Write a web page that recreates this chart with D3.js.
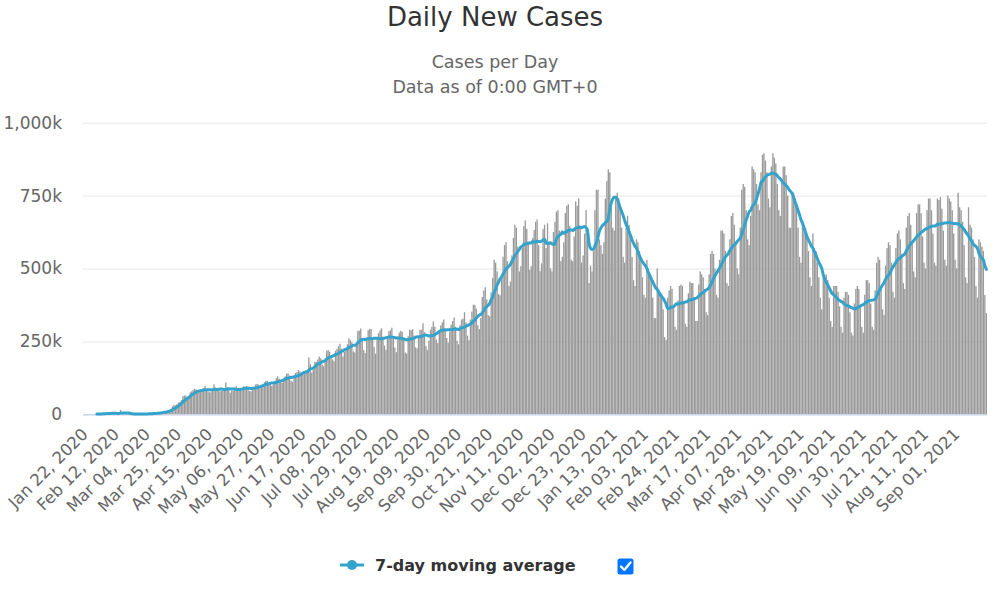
<!DOCTYPE html>
<html><head><meta charset="utf-8">
<script src="https://cdn.jsdelivr.net/npm/d3@7"></script>
<style>
html,body{margin:0;padding:0;background:#fff;}
svg{display:block;font-family:"DejaVu Sans",Verdana,sans-serif;}
</style>
</head><body>
<svg id="chart" width="1007" height="590"></svg>
<script>
// ---------------- DATA ----------------
const startDate = "2020-01-22";          // first category (a Wednesday)
// Daily new cases in thousands, one value per day (rows = weeks Wed..Tue)
const dailyNewCasesK = [
0.1,0.3,0.5,0.7,0.8,0.8,1.5,
1.2,2.0,2.1,2.6,2.8,3.2,3.9,
3.7,3.2,3.4,2.7,3.0,2.6,2.0,
2.0,15.1,6.5,2.1,2.1,2.0,1.9,
0.5,0.9,1.0,1.6,0.6,0.6,0.9,
1.0,1.3,1.4,1.9,1.7,1.9,2.5,
2.3,2.8,3.9,3.9,4.1,4.0,4.6,
7.1,8.0,10.8,10.9,11.4,14.5,15.0,
19,27,32,31,34,40,42,
49,62,64,64,60,62,75,
79,83,88,85,75,76,81,
86,90,97,83,78,75,76,
88,103,92,85,80,79,81,
82,89,109,90,83,74,81,
80,90,97,90,82,83,81,
96,94,97,92,80,79,88,
94,102,104,102,89,95,100,
110,115,115,108,104,97,102,
114,124,130,122,110,108,120,
130,140,140,133,115,112,130,
142,145,152,147,136,138,148,
150,150,195,172,143,152,180,
180,188,198,192,170,165,192,
218,220,215,198,188,182,218,
224,233,242,225,198,214,226,
240,260,254,247,216,212,243,
285,287,294,258,220,210,255,
288,293,292,258,231,208,256,
278,288,295,266,236,221,262,
285,288,297,258,229,213,265,
280,286,283,258,212,208,268,
290,288,292,270,230,226,268,
290,290,312,282,234,220,252,
290,300,318,300,256,244,282,
305,315,325,294,262,246,283,
308,320,332,300,252,240,305,
325,328,350,315,270,254,325,
352,376,375,362,305,292,330,
402,424,436,394,340,336,418,
468,530,520,490,412,408,470,
540,580,590,525,440,455,545,
605,650,640,575,490,508,570,
645,665,636,592,495,508,605,
632,660,668,580,492,518,635,
650,570,655,590,500,490,625,
660,695,700,630,525,540,590,
690,715,720,645,530,525,610,
730,715,740,640,520,545,620,
700,640,450,510,490,560,700,
770,770,600,580,550,590,740,
800,840,830,730,640,630,740,
760,740,720,640,540,520,640,
680,650,620,540,460,440,600,
590,560,540,470,410,400,530,
500,480,460,400,330,330,500,
430,420,415,360,265,255,400,
425,440,430,370,300,290,390,
440,445,440,380,310,300,415,
455,450,450,395,320,320,445,
490,480,470,430,350,340,480,
550,560,550,500,410,400,530,
630,630,620,560,450,440,600,
680,690,650,590,500,480,640,
770,790,780,700,600,580,680,
850,840,830,790,720,700,830,
890,895,870,830,740,710,850,
895,880,860,790,700,680,800,
850,850,820,750,640,640,750,
760,740,720,640,540,520,665,
650,640,610,560,470,440,620,
570,560,520,470,400,360,470,
470,480,460,400,320,300,440,
440,440,420,370,300,280,400,
420,420,410,350,280,270,380,
430,440,430,370,300,280,410,
460,460,450,380,300,290,425,
520,540,530,440,360,340,510,
570,590,580,520,420,400,570,
620,630,600,550,450,430,640,
680,690,650,590,490,470,690,
720,720,690,610,520,500,700,
740,740,700,620,520,510,740,
735,745,705,630,530,510,750,
740,730,700,620,530,500,760,
710,700,660,580,470,450,710,
650,640,600,540,440,400,600,
590,575,560,409,347
];
const yTickValues = [0, 250, 500, 750, 1000];
const xTickLabels = ["Jan 22, 2020","Feb 12, 2020","Mar 04, 2020","Mar 25, 2020","Apr 15, 2020",
  "May 06, 2020","May 27, 2020","Jun 17, 2020","Jul 08, 2020","Jul 29, 2020","Aug 19, 2020",
  "Sep 09, 2020","Sep 30, 2020","Oct 21, 2020","Nov 11, 2020","Dec 02, 2020","Dec 23, 2020",
  "Jan 13, 2021","Feb 03, 2021","Feb 24, 2021","Mar 17, 2021","Apr 07, 2021","Apr 28, 2021",
  "May 19, 2021","Jun 09, 2021","Jun 30, 2021","Jul 21, 2021","Aug 11, 2021","Sep 01, 2021"];
const xTickEveryDays = 21;
const movingAverageDays = 7;
const titleText = "Daily New Cases";
const subtitleLines = ["Cases per Day", "Data as of 0:00 GMT+0"];
const legendLabel = "7-day moving average";

// ---------------- CHART ----------------
const W = 1007, H = 590;
const plot = {left: 83, right: 987, top: 122.7, bottom: 414.3};
const svg = d3.select("#chart");
svg.append("rect").attr("width", W).attr("height", H).attr("fill", "#fff");

const n = dailyNewCasesK.length;
const day0 = d3.utcParse("%Y-%m-%d")(startDate);
const categories = d3.range(n).map(i => d3.utcDay.offset(day0, i));

const x = d3.scaleBand().domain(d3.range(n)).range([87.3, plot.right]).paddingInner(0.1);
const cx = i => x(i) + x.bandwidth() / 2;
const y = d3.scaleLinear().domain([0, 1000]).range([plot.bottom, plot.top]);

// title
svg.append("text").attr("x", 495).attr("y", 26).attr("text-anchor", "middle")
  .attr("font-size", 26).attr("fill", "#333").text(titleText);
svg.selectAll("text.sub").data(subtitleLines).join("text").attr("class", "sub")
  .attr("x", 495).attr("y", (d, i) => 68 + i * 25).attr("text-anchor", "middle")
  .attr("font-size", 17.5).attr("fill", "#666").text(d => d);

// y axis + grid
const yAxis = d3.axisLeft(y).tickValues(yTickValues)
  .tickFormat(d => d === 0 ? "0" : d3.format(",")(d) + "k")
  .tickSize(-(plot.right - plot.left)).tickPadding(21);
const gy = svg.append("g").attr("transform", `translate(${plot.left},0)`).call(yAxis);
gy.select(".domain").remove();
gy.selectAll("line").attr("stroke", "#e6e6e6");
gy.selectAll("text").attr("font-size", 17).attr("fill", "#666")
  .attr("font-family", '"DejaVu Sans",Verdana,sans-serif');

// bars
svg.append("g").selectAll("rect").data(dailyNewCasesK).join("rect")
  .attr("x", (d, i) => x(i)).attr("width", x.bandwidth())
  .attr("y", d => y(d)).attr("height", d => y(0) - y(d))
  .attr("fill", "#9a9a9a");

// x axis
svg.append("line").attr("x1", plot.left).attr("x2", plot.right)
  .attr("y1", plot.bottom + 0.5).attr("y2", plot.bottom + 0.5)
  .attr("stroke", "#ccd6eb").attr("stroke-width", 1.5);
const tickIdx = d3.range(0, n, xTickEveryDays).slice(0, xTickLabels.length);
const xAxis = d3.axisBottom(x).tickValues(tickIdx)
  .tickFormat(i => xTickLabels[i / xTickEveryDays]).tickSize(0);
const gx = svg.append("g").attr("transform", `translate(0,${plot.bottom})`).call(xAxis);
gx.select(".domain").remove();
gx.selectAll("text").attr("x", 0).attr("y", 0).attr("dy", null)
  .attr("text-anchor", "end").attr("transform", "translate(1,21) rotate(-45)")
  .attr("font-size", 16.5).attr("fill", "#666")
  .attr("font-family", '"DejaVu Sans",Verdana,sans-serif');

// 7-day moving average
const ma = dailyNewCasesK.map((v, i) => i < movingAverageDays - 1 ? null :
  d3.mean(dailyNewCasesK.slice(i - movingAverageDays + 1, i + 1)));
const lineGen = d3.line().defined(d => d != null)
  .x((d, i) => cx(i)).y(d => y(d)).curve(d3.curveMonotoneX);
svg.append("path").datum(ma).attr("d", lineGen)
  .attr("fill", "none").attr("stroke", "#33a3cc").attr("stroke-width", 3)
  .attr("stroke-linejoin", "round").attr("stroke-linecap", "round");

// legend
const lg = svg.append("g");
lg.append("line").attr("x1", 340).attr("x2", 364).attr("y1", 565).attr("y2", 565)
  .attr("stroke", "#33a3cc").attr("stroke-width", 3);
lg.append("circle").attr("cx", 352).attr("cy", 565).attr("r", 5).attr("fill", "#33a3cc");
lg.append("text").attr("x", 375).attr("y", 571).attr("font-size", 16)
  .attr("font-weight", "bold").attr("fill", "#333").text(legendLabel);
lg.append("rect").attr("x", 617.5).attr("y", 558.5).attr("width", 16).attr("height", 16)
  .attr("rx", 2.5).attr("fill", "#0075ff");
lg.append("path").attr("d", "M621,566.5 L624.3,570 L630.5,562.5")
  .attr("fill", "none").attr("stroke", "#fff").attr("stroke-width", 2.4)
  .attr("stroke-linecap", "round").attr("stroke-linejoin", "round");
</script>
</body></html>
